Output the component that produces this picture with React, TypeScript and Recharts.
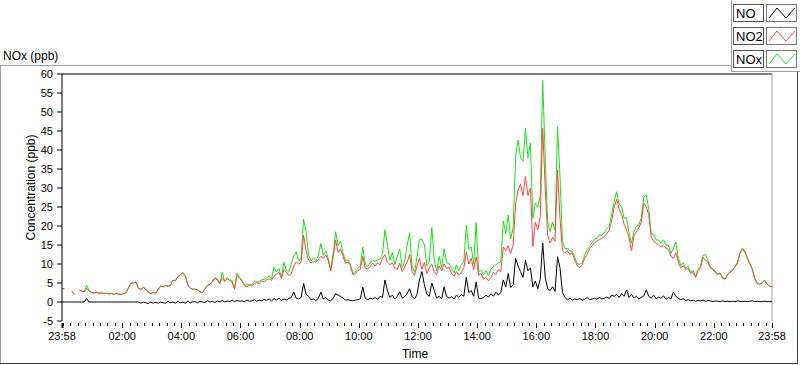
import React from "react";
import { LineChart, Line, XAxis, YAxis, ReferenceLine } from "recharts";

// sampling step of the record, minutes after 23:58
const STEP_MIN = 5;

// NO (ppb), one value every 5 minutes from 23:58 to 23:58
const NO: (number | null)[] = [
  0, 0, 0, 0, 0, 0, 0, 0, 0, 0,
  0.9, 0, 0, 0, 0, 0, 0, 0, 0, 0,
  0, 0, 0, 0, 0, 0, 0, 0, 0, 0,
  0, 0, -0.3, 0, -0.2, -0.4, 0, -0.3, -0.1, -0.3,
  0, -0.2, -0.3, 0.1, -0.2, 0, -0.3, 0.1, -0.2, 0,
  -0.3, 0.2, -0.2, 0, 0.1, -0.2, 0.2, 0, -0.1, 0.3,
  0, 0.2, -0.1, 0.3, 0.1, 0.4, 0, 0.3, 0.1, 0.5,
  0.1, 0.4, 0.2, 0.3, 0.1, 0.5, 0.2, 0.3, 0.6, 0.2,
  0.5, 0.3, 0.7, 0.4, 0.8, 0.3, 0.9, 0.5, 1.0, 0.4,
  0.8, 0.5, 0.9, 1.2, 2.6, 1.0, 0.8, 1.2, 4.9, 2.0,
  1.5, 0.6, 0.8, 0.4, 1.0, 2.6, 0.8, 1.2, 0.5, 0.3,
  1.0, 2.2, 1.8, 1.5, 1.0, 0.5, 0.6, 0.4, 0.3, 0.5,
  0.6, 0.8, 3.9, 1.0, 0.6, 1.0, 0.8, 1.2, 0.7, 1.5,
  1.2, 5.8, 3.0, 1.2, 1.8, 0.8, 1.5, 2.7, 1.0, 1.4,
  2.2, 3.5, 1.5, 0.8, 2.0, 5.8, 8.0, 4.5, 2.0, 1.5,
  5.0, 3.0, 1.0, 1.5, 0.8, 4.0, 1.5, 1.0, 1.4, 0.8,
  1.8, 1.2, 2.0, 1.5, 6.5, 2.5, 3.0, 1.5, 5.3, 1.0,
  0.8, 1.2, 1.8, 1.3, 2.2, 1.5, 2.6, 1.8, 2.5, 5.8,
  4.0, 7.5, 3.8, 4.5, 11.5, 9.5, 8.0, 6.5, 11.0, 8.2,
  9.0, 4.0, 5.5, 3.5, 6.0, 15.5, 6.5, 3.5, 3.0, 4.0,
  2.8, 11.9, 9.0, 2.5, 1.2, 0.6, 1.0, 0.5, 0.8, 0.6,
  0.9, 0.5, 0.7, 1.2, 0.6, 0.8, 1.0, 0.7, 1.2, 0.8,
  1.0, 1.3, 0.9, 1.8, 1.5, 2.0, 1.2, 2.2, 1.5, 3.2,
  1.2, 2.0, 1.0, 1.5, 0.8, 1.2, 1.6, 3.2, 1.5, 1.0,
  1.8, 0.8, 1.3, 1.0, 1.6, 0.7, 1.2, 0.8, 2.6, 1.5,
  1.0, 0.6, 0.8, 0.4, 0.6, 0.3, 0.5, 0.2, 0.4, 0.3,
  0.5, 0.2, 0.4, 0.3, 0.1, 0.3, 0.2, 0.1, 0.3, 0.1,
  0.2, 0.1, 0.2, 0.1, 0.3, 0.2, 0.1, 0.2, 0.1, 0.2,
  0.3, 0.1, 0.2, 0.1, 0.1, 0.2, 0.1, 0.1, 0.1,
];

// NO2 (ppb)
const NO2: (number | null)[] = [
  3.5, 3.5, null, null, 2.9, 2.0, null, 3.2, 2.8, 2.7,
  3.6, 2.9, 2.5, 2.4, 2.5, 2.3, 2.4, 2.2, 2.3, 2.1,
  2.2, 2.0, 2.2, 2.1, 2.0, 2.2, 2.4, 3.8, 4.9, 5.0,
  5.2, 3.6, 3.3, 3.8, 3.4, 2.6, 2.2, 2.5, 2.3, 3.3,
  4.2, 4.0, 4.3, 4.1, 4.4, 5.7, 5.6, 6.6, 7.2, 7.6,
  7.0, 4.5, 3.6, 3.4, 3.3, 3.2, 2.6, 2.4, 3.5, 4.2,
  4.6, 5.3, 6.2, 5.8, 4.8, 6.4, 5.4, 6.1, 5.7, 5.2,
  3.4, 7.0, 6.3, 5.5, 4.3, 4.0, 4.4, 4.2, 4.8, 5.1,
  4.8, 5.6, 5.2, 5.9, 6.1, 5.7, 6.8, 7.4, 7.8, 6.2,
  8.5, 7.9, 7.0, 7.4, 9.5, 10.6, 10.0, 10.5, 17.6, 13.5,
  11.0, 10.2, 10.8, 10.5, 11.2, 12.0, 11.5, 12.3, 11.0, 8.2,
  11.8, 16.3, 13.0, 14.0, 12.0, 10.2, 10.5, 9.6, 7.2, 7.5,
  8.3, 8.6, 12.0, 9.0, 8.7, 9.3, 10.2, 9.5, 10.3, 9.8,
  11.5, 12.5, 10.5, 9.8, 10.3, 9.0, 8.6, 10.2, 8.0, 9.2,
  10.5, 12.5, 8.0, 7.0, 9.5, 11.5, 8.5, 10.5, 7.5, 9.0,
  10.0, 8.0, 7.2, 9.5, 8.2, 10.0, 8.8, 9.2, 7.5, 6.8,
  8.0, 7.0, 7.8, 9.0, 13.2, 10.0, 11.5, 8.5, 11.9, 7.0,
  7.5, 6.0, 6.5, 5.6, 6.5, 7.8, 7.2, 8.5, 8.0, 14.5,
  13.5, 14.8, 12.8, 15.0, 26.0, 29.5, 31.0, 28.0, 33.0, 28.0,
  30.0, 14.6, 21.0, 19.0, 22.5, 45.7, 30.0, 17.5, 15.5, 17.0,
  16.0, 34.7, 22.0, 13.6, 12.8, 13.5, 12.5, 12.8, 11.0, 9.5,
  9.0, 9.8, 11.5, 12.5, 14.0, 14.8, 15.6, 16.0, 16.5, 16.8,
  17.2, 18.0, 19.0, 21.5, 25.0, 27.0, 24.5, 23.0, 20.5, 19.0,
  17.0, 13.5, 17.5, 18.5, 19.5, 21.0, 26.0, 25.0, 23.0, 17.0,
  16.0, 15.5, 15.0, 14.5, 14.8, 14.2, 13.8, 12.0, 11.5, 13.0,
  10.5, 9.0, 9.5, 8.5, 8.8, 7.5, 7.8, 6.5, 8.2, 9.0,
  11.8, 11.0, 10.5, 9.0, 8.5, 7.8, 7.2, 7.5, 6.2, 6.0,
  7.2, 7.8, 8.3, 9.2, 10.2, 12.8, 13.8, 13.2, 11.5, 10.0,
  8.5, 6.2, 4.8, 4.6, 5.0, 5.6, 4.7, 4.1, 4.0,
];

// NOx (ppb)
const NOX: (number | null)[] = [
  3.5, 3.5, null, null, 2.9, 2.0, null, 3.2, 2.8, 2.7,
  4.4, 2.9, 2.5, 2.4, 2.6, 2.3, 2.4, 2.3, 2.3, 2.1,
  2.3, 2.0, 2.2, 2.1, 2.0, 2.2, 2.4, 3.8, 4.9, 5.2,
  5.3, 3.6, 3.3, 3.9, 3.4, 2.6, 2.2, 2.5, 2.3, 3.3,
  4.2, 4.0, 4.3, 4.2, 4.4, 5.7, 5.6, 6.7, 7.2, 7.8,
  7.0, 4.7, 3.6, 3.4, 3.4, 3.2, 2.8, 2.4, 3.5, 4.5,
  4.6, 5.5, 6.3, 6.1, 4.9, 7.9, 5.4, 6.4, 5.8, 5.7,
  3.5, 7.6, 6.5, 5.8, 4.4, 4.5, 4.6, 4.5, 5.4, 5.3,
  5.3, 5.9, 5.9, 6.3, 6.9, 6.0, 9.2, 7.9, 8.8, 6.6,
  10.5, 8.4, 7.9, 9.9, 12.1, 13.2, 10.8, 11.7, 21.8, 18.5,
  12.5, 10.8, 11.6, 10.9, 12.2, 15.4, 12.3, 13.5, 11.5, 8.5,
  12.8, 18.5, 14.8, 16.0, 13.0, 10.7, 11.1, 10.0, 7.5, 8.0,
  8.9, 9.4, 14.5, 10.0, 9.3, 10.3, 11.0, 10.7, 11.0, 11.3,
  12.7, 19.0, 15.0, 11.0, 13.0, 9.8, 12.0, 14.0, 9.0, 10.6,
  15.0, 18.2, 9.5, 7.8, 12.0, 16.5, 16.5, 15.0, 9.5, 10.5,
  19.6, 11.0, 8.2, 12.0, 9.0, 14.0, 10.3, 10.2, 8.9, 7.6,
  9.8, 8.2, 9.8, 10.5, 20.2, 14.0, 14.5, 10.0, 20.9, 8.0,
  8.3, 7.2, 8.3, 6.9, 8.7, 9.3, 9.8, 10.3, 10.5, 21.3,
  18.0, 22.9, 16.6, 19.5, 38.2, 42.6, 38.0, 37.0, 45.7, 38.0,
  41.8, 22.0, 26.0, 25.0, 28.0, 58.4, 38.0, 21.0, 18.5, 21.0,
  18.8, 46.1, 33.0, 16.1, 14.0, 14.1, 13.5, 13.3, 11.8, 10.1,
  9.9, 10.3, 12.2, 13.7, 14.6, 15.6, 16.6, 16.7, 17.7, 17.6,
  18.2, 19.3, 19.9, 23.3, 26.5, 29.0, 25.7, 25.2, 22.0, 22.2,
  18.2, 15.5, 18.5, 20.0, 20.3, 22.2, 27.6, 28.2, 24.5, 18.0,
  17.8, 16.3, 16.3, 15.5, 16.4, 14.9, 15.0, 12.8, 14.1, 15.8,
  11.5, 9.6, 10.3, 8.9, 9.4, 7.8, 8.3, 6.7, 8.6, 9.3,
  12.3, 12.5, 10.9, 9.3, 8.6, 8.1, 7.4, 7.6, 6.5, 6.1,
  7.4, 7.9, 8.5, 9.3, 10.5, 13.0, 14.2, 13.4, 11.6, 10.2,
  8.8, 6.3, 5.0, 4.7, 5.1, 5.8, 4.8, 4.2, 4.1,
];

// x-axis: minutes after 23:58
const majorTicks = [0, 122, 242, 362, 482, 602, 722, 842, 962, 1082, 1202, 1322, 1440];
const majorLabels = ["23:58", "02:00", "04:00", "06:00", "08:00", "10:00", "12:00", "14:00", "16:00", "18:00", "20:00", "22:00", "23:58"];
const MINOR_START = 2; // 00:00
const MINOR_STEP = 15;
const yTicks = [-5, 0, 5, 10, 15, 20, 25, 30, 35, 40, 45, 50, 55, 60];

const seriesKeys = ["NO", "NO2", "NOx"];
const seriesNames = ["NO", "NO2", "NOx"];
const seriesColors = ["#000000", "#ff4444", "#18e418"];

const data = NO.map((v, i) => ({ t: i * STEP_MIN, NO: v, NO2: NO2[i], NOx: NOX[i] }));

const minorTicks: number[] = [];
for (let m = MINOR_START; m < 1440; m += MINOR_STEP) {
  if (!majorTicks.includes(m)) minorTicks.push(m);
}
const allTicks = [...majorTicks, ...minorTicks].sort((a, b) => a - b);

const FONT = "'Liberation Sans', Arial, sans-serif";

function XTick(props: any) {
  const { x, y, payload } = props;
  const idx = majorTicks.indexOf(payload.value);
  const px = Math.round(x) + 0.5;
  if (idx < 0) {
    return <line x1={px} x2={px} y1={y + 2} y2={y + 5} stroke="#000" />;
  }
  return (
    <g>
      <line x1={px} x2={px} y1={y + 2} y2={y + 7} stroke="#000" strokeWidth={idx === 0 ? 2 : 1} />
      <text x={x} y={y + 19} textAnchor="middle" fontSize={11} fontFamily={FONT} fill="#000">
        {majorLabels[idx]}
      </text>
    </g>
  );
}

function YLabel(props: any) {
  const vb = props.viewBox || { x: 12, y: 74, width: 50, height: 247 };
  const cx = vb.x + 19;
  const cy = vb.y + vb.height / 2 - 10;
  return (
    <text
      x={cx}
      y={cy}
      transform={`rotate(-90 ${cx} ${cy})`}
      textAnchor="middle"
      dominantBaseline="central"
      fontSize={12}
      fontFamily={FONT}
      fill="#000"
    >
      Concentration (ppb)
    </text>
  );
}

function XLabel(props: any) {
  const vb = props.viewBox || { x: 62, y: 321, width: 710, height: 30 };
  return (
    <text x={vb.x + vb.width / 2 - 2} y={vb.y + 37} textAnchor="middle" fontSize={12} fontFamily={FONT} fill="#000">
      Time
    </text>
  );
}

function LegendBox() {
  return (
    <g>
      {seriesNames.map((name, k) => {
        const top = 4 + 23 * k;
        const c = seriesColors[k];
        return (
          <g key={name}>
            <rect x={733.5} y={top + 0.5} width={30} height={17} fill="#fff" stroke="#555" />
            <text x={736} y={top + 14} fontSize={13} fontFamily={FONT} fill="#000">
              {name}
            </text>
            <rect x={766.5} y={top + 0.5} width={30} height={17} fill="#fff" stroke="#777" />
            <polyline
              points={`769,${top + 14} 777,${top + 4} 786,${top + 14} 795,${top + 4}`}
              fill="none"
              stroke={c}
              strokeWidth={1}
            />
          </g>
        );
      })}
    </g>
  );
}

export default function App() {
  return (
    <div style={{ position: "absolute", left: 0, top: 0, width: 800, height: 365, background: "#fff", overflow: "hidden" }}>
      <svg width={800} height={365} style={{ position: "absolute", left: 0, top: 0 }}>
        <line x1={0} y1={65.5} x2={731} y2={65.5} stroke="#a0a0a0" />
        <line x1={0.5} y1={65} x2={0.5} y2={364} stroke="#a0a0a0" />
        <line x1={0} y1={363.5} x2={798} y2={363.5} stroke="#404040" />
        <line x1={797.5} y1={71} x2={797.5} y2={364} stroke="#404040" />
        <line x1={731.5} y1={0} x2={731.5} y2={72} stroke="#a0a0a0" />
        <line x1={731} y1={71.5} x2={800} y2={71.5} stroke="#a0a0a0" />
        <text x={3} y={60} fontSize={12} fontFamily={FONT} fill="#000">
          NOx (ppb)
        </text>
        <LegendBox />
      </svg>
      <div style={{ position: "absolute", left: 0, top: 0 }}>
        <LineChart width={800} height={365} data={data} margin={{ top: 74, right: 28, bottom: 14, left: 12 }}>
          <XAxis
            type="number"
            dataKey="t"
            domain={[0, 1440]}
            ticks={allTicks}
            interval={0}
            tick={<XTick />}
            tickLine={false}
            axisLine={false}
            tickSize={0}
            tickMargin={0}
            height={30}
            label={<XLabel />}
          />
          <YAxis
            type="number"
            domain={[-5, 60]}
            ticks={yTicks}
            interval={0}
            width={50}
            tickSize={5}
            tickMargin={4}
            stroke="#000"
            tick={{ fill: "#000", fontSize: 11, fontFamily: FONT }}
            tickLine={{ stroke: "#000" }}
            axisLine={{ stroke: "#000" }}
            label={<YLabel />}
          />
          <ReferenceLine y={60} stroke="#000" />
          <ReferenceLine x={1440} stroke="#a0a0a0" />
          {[2, 1, 0].map((k) => (
            <Line
              key={seriesKeys[k]}
              type="linear"
              dataKey={seriesKeys[k]}
              name={seriesNames[k]}
              stroke={seriesColors[k]}
              strokeWidth={1}
              dot={false}
              activeDot={false}
              connectNulls={false}
              isAnimationActive={false}
            />
          ))}
        </LineChart>
      </div>
    </div>
  );
}
